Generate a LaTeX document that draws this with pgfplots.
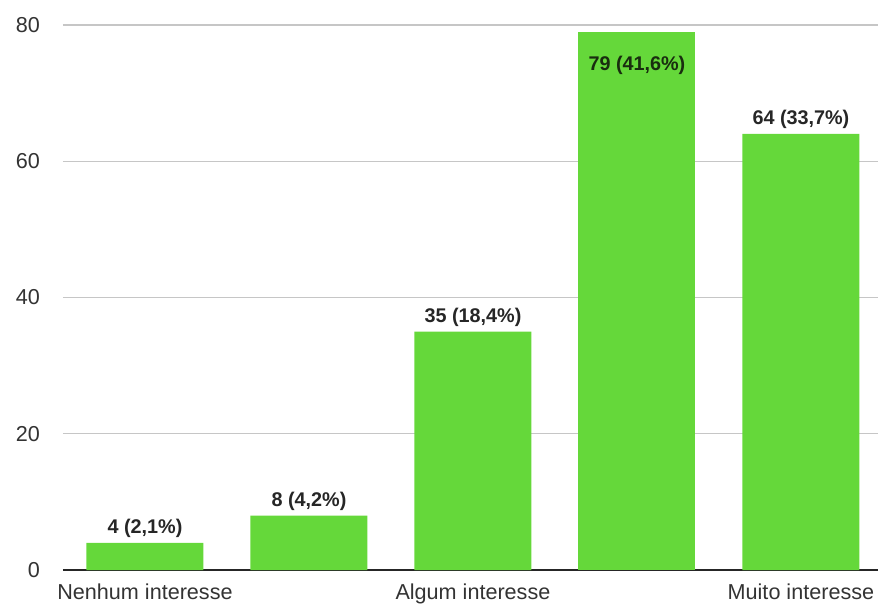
\documentclass[border=0pt]{standalone}
\usepackage{pgfplots}
\pgfplotsset{compat=1.18}
\usepackage{fontspec}
\setmainfont{Liberation Sans}
\definecolor{bargreen}{RGB}{101,216,58}
\definecolor{gridgray}{RGB}{198,198,198}
\definecolor{darklab}{RGB}{25,45,15}
\begin{document}
\begin{tikzpicture}
\useasboundingbox (-31.5pt,-17.5pt) rectangle (407.5pt,285pt);
\begin{axis}[
  at={(0pt,0pt)}, anchor=south west,
  scale only axis,
  width=407.5pt, height=272.5pt,
  xmin=0.5, xmax=5.47,
  ymin=0, ymax=80,
  ytick={0,20,40,60,80},
  xtick={1,3,5},
  xticklabels={Nenhum interesse, Algum interesse, Muito interesse},
  axis y line=left,
  axis x line=bottom,
  y axis line style={draw=none},
  x axis line style={draw=black!85, line width=0.6pt, -},
  ymajorgrids,
  grid style={gridgray, line width=0.6pt},
  major tick length=0pt,
  tick style={draw=none},
  /pgf/number format/assume math mode=true,
  ticklabel style={font=\fontsize{10.8}{12}\selectfont, text=black!80},
  yticklabel style={xshift=-8pt},
  xticklabel style={yshift=-3.5pt},
  clip=false,
]
\addplot[ybar, bar width=58.5pt, bar shift=0pt, fill=bargreen, draw=none,
  point meta=explicit symbolic,
  nodes near coords,
  nodes near coords style={font=\bfseries\fontsize{9.9}{11}\selectfont, text=black!85, anchor=south, yshift=-1pt},
] table[meta=lab] {
x y lab
1 4 {4 (2,1\%)}
2 8 {8 (4,2\%)}
3 35 {35 (18,4\%)}
5 64 {64 (33,7\%)}
};
\addplot[ybar, bar width=58.5pt, bar shift=0pt, fill=bargreen, draw=none,
  point meta=explicit symbolic,
  nodes near coords,
  nodes near coords style={font=\bfseries\fontsize{9.9}{11}\selectfont, text=darklab, anchor=north, yshift=-8.5pt},
] table[meta=lab] {
x y lab
4 79 {79 (41,6\%)}
};
\end{axis}
\end{tikzpicture}
\end{document}
